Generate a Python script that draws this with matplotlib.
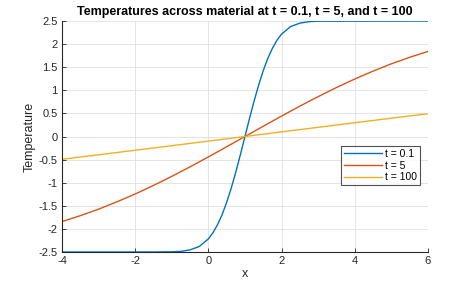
import numpy as np
import matplotlib
matplotlib.use("Agg")
import matplotlib.pyplot as plt

plt.rcParams['font.family'] = ['Liberation Sans', 'DejaVu Sans']
plt.rcParams['axes.unicode_minus'] = False

# values
x_t01 = [-4, -2, -1.5, -1, -0.75, -0.5, -0.25, 0, 0.125, 0.25, 0.375, 0.5, 0.625, 0.75, 0.875,
         1, 1.125, 1.25, 1.375, 1.5, 1.625, 1.75, 1.875, 2, 2.25, 2.5, 2.75, 3, 6]
T_t01 = [-2.5, -2.5, -2.4997, -2.496, -2.486, -2.454, -2.381, -2.216, -2.085, -1.909, -1.693,
         -1.426, -1.117, -0.768, -0.392, 0, 0.392, 0.768, 1.117, 1.426, 1.693, 1.909, 2.085,
         2.216, 2.381, 2.454, 2.486, 2.496, 2.5]

x_t5 = [-4, -3.5, -3, -2.5, -2, -1.5, -1, -0.5, 0, 0.5, 1, 1.5, 2, 2.5, 3, 3.5, 4, 4.5, 5, 5.5, 6]
T_t5 = [-1.841, -1.714, -1.573, -1.415, -1.244, -1.060, -0.863, -0.657, -0.442, -0.222, 0,
        0.222, 0.442, 0.657, 0.863, 1.060, 1.244, 1.415, 1.573, 1.714, 1.841]

x_t100 = [-4, -2, 0, 1, 2, 4, 6]
T_t100 = [-0.493, -0.298, -0.100, 0, 0.100, 0.298, 0.493]

labels = ['t = 0.1', 't = 5', 't = 100']
colors = ['#0072BD', '#D95319', '#EDB120']

fig = plt.figure(figsize=(4.74, 2.85), dpi=100)
ax = fig.add_axes([0.1308, 0.1158, 0.772, 0.8105])

ax.plot(x_t01, T_t01, color=colors[0], lw=1.0, label=labels[0])
ax.plot(x_t5, T_t5, color=colors[1], lw=1.0, label=labels[1])
ax.plot(x_t100, T_t100, color=colors[2], lw=1.0, label=labels[2])

ax.set_xlim(-4, 6)
ax.set_ylim(-2.5, 2.5)
ax.set_xticks(np.arange(-4, 7, 2))
yt = np.arange(-2.5, 2.6, 0.5)
ax.set_yticks(yt)
ax.set_yticklabels([f'{v:g}' for v in yt])

ax.grid(True, color='#DFDFDF', lw=0.6)
ax.set_axisbelow(True)
for s in ['top', 'right']:
    ax.spines[s].set_visible(False)
for s in ['left', 'bottom']:
    ax.spines[s].set_color('#262626')
    ax.spines[s].set_linewidth(0.8)
ax.tick_params(direction='in', length=3, width=0.6, colors='#262626', labelsize=8, pad=3)

ax.set_xlabel('x', fontsize=9, color='#262626', labelpad=1)
ax.set_ylabel('Temperature', fontsize=9, color='#262626', labelpad=2)
ax.set_title('Temperatures across material at t = 0.1, t = 5, and t = 100',
             fontsize=9, fontweight='bold', pad=4)

leg = ax.legend(loc='upper right', bbox_to_anchor=(0.978, 0.459), fontsize=7.5,
                frameon=True, fancybox=False, edgecolor='#262626', borderpad=0.3,
                handlelength=3.6, handletextpad=0.3, labelspacing=0.15, borderaxespad=0)
leg.get_frame().set_linewidth(0.8)

fig.savefig('out.png', dpi=100)
